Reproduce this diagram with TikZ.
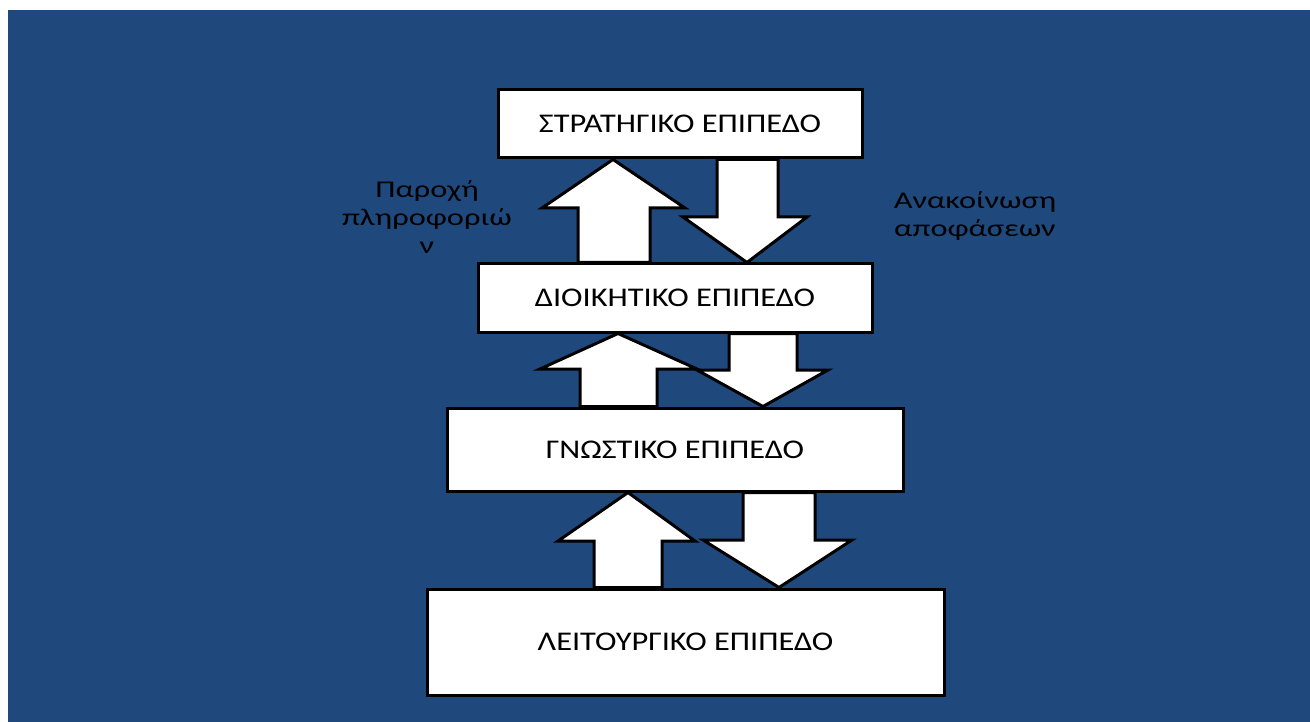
\documentclass[tikz,border=0pt]{standalone}
\usepackage{fontspec}
\setmainfont[FakeStretch=1.2]{Carlito}
\newfontfamily\notefont[FakeStretch=1.35]{Carlito}
\definecolor{bgblue}{HTML}{1F497D}
\tikzset{
  layerbox/.style={draw=black, fill=white, line width=3pt, inner sep=0pt,
    font=\fontsize{27}{32}\selectfont},
  blockarrow/.style={draw=black, fill=white, line width=3pt, line join=miter},
  note/.style={align=center, text=black, font=\notefont\fontsize{24}{28}\selectfont}
}
\begin{document}
\begin{tikzpicture}[x=1pt,y=-1pt]
    \useasboundingbox (0,0) rectangle (1310,722);
    % Fundo azul
    \fill[white] (0,0) rectangle (1310,722);
    \fill[bgblue] (8,10) rectangle (1310,722);

    % Os quatro niveis
    \node[layerbox, minimum width=364pt, minimum height=68pt] (strat) at (680,124) {ΣΤΡΑΤΗΓΙΚΟ ΕΠΙΠΕΔΟ};
    \node[layerbox, minimum width=394pt, minimum height=68pt] (dioik) at (675,298) {ΔΙΟΙΚΗΤΙΚΟ ΕΠΙΠΕΔΟ};
    \node[layerbox, minimum width=456pt, minimum height=83pt] (gnost) at (675,449.5) {ΓΝΩΣΤΙΚΟ ΕΠΙΠΕΔΟ};
    \node[layerbox, minimum width=517pt, minimum height=106pt] (leit) at (685.5,642) {ΛΕΙΤΟΥΡΓΙΚΟ ΕΠΙΠΕΔΟ};

    % Setas para cima
    \draw[blockarrow] (613,0 |- strat.south) -- (685,208) -- (650,208) -- (650,0 |- dioik.north)
        -- (578,0 |- dioik.north) -- (578,208) -- (542,208) -- cycle;
    \draw[blockarrow] (618,0 |- dioik.south) -- (697,369) -- (657,369) -- (657,0 |- gnost.north)
        -- (580,0 |- gnost.north) -- (580,369) -- (540,369) -- cycle;
    \draw[blockarrow] (628,0 |- gnost.south) -- (695,541) -- (662,541) -- (662,0 |- leit.north)
        -- (594,0 |- leit.north) -- (594,541) -- (558,541) -- cycle;

    % Setas para baixo
    \draw[blockarrow] (717,0 |- strat.south) -- (778,0 |- strat.south) -- (778,217) -- (807,217)
        -- (747,0 |- dioik.north) -- (683,217) -- (717,217) -- cycle;
    \draw[blockarrow] (729,0 |- dioik.south) -- (797,0 |- dioik.south) -- (797,370) -- (828,370)
        -- (763,0 |- gnost.north) -- (697,370) -- (729,370) -- cycle;
    \draw[blockarrow] (743,0 |- gnost.south) -- (815,0 |- gnost.south) -- (815,540) -- (852,540)
        -- (779,0 |- leit.north) -- (703,540) -- (743,540) -- cycle;

    % Textos laterais
    \node[note] (paroxi) at (427,217) {Παροχή\\πληροφοριώ\\ν};
    \node[note] (anakoin) at (975,216) {Ανακοίνωση\\αποφάσεων};
\end{tikzpicture}
\end{document}
